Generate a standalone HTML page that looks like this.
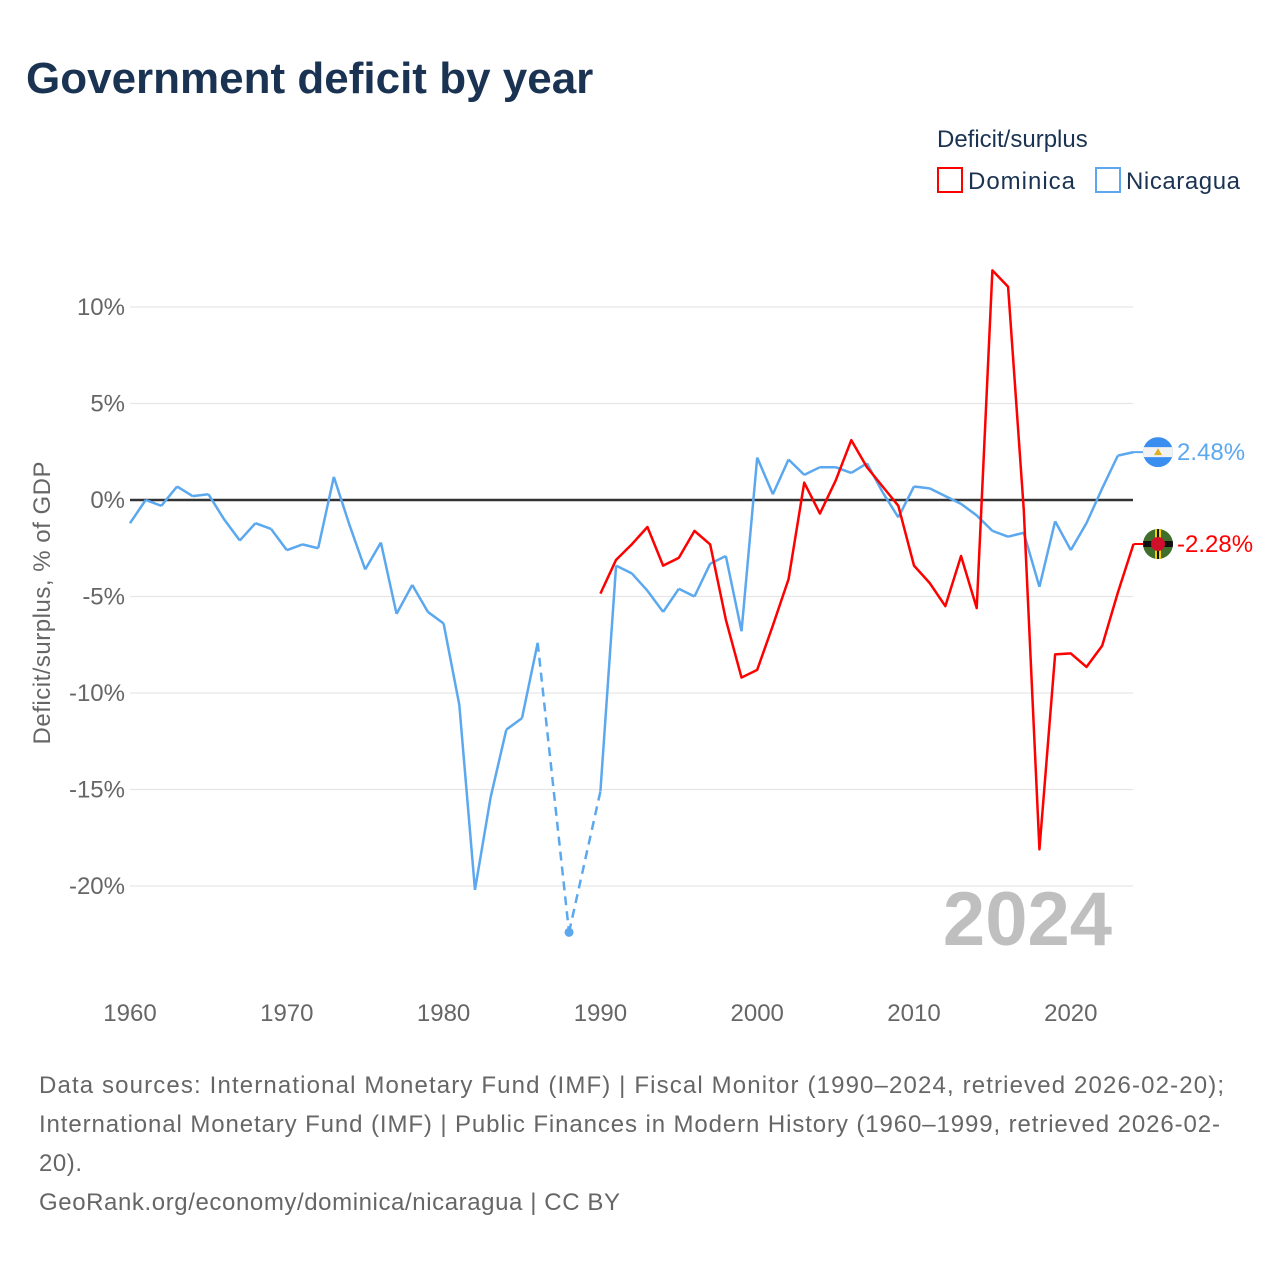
<!DOCTYPE html>
<html><head><meta charset="utf-8">
<style>
body{margin:0;background:#fff;width:1280px;height:1280px;overflow:hidden;font-family:"Liberation Sans",sans-serif;}
</style></head>
<body>
<svg id="chart" width="1280" height="1280" xmlns="http://www.w3.org/2000/svg" font-family="Liberation Sans, sans-serif">
<text x="26" y="93" font-size="44" font-weight="bold" fill="#1b3352">Government deficit by year</text>
<text x="937" y="147" font-size="24" fill="#1b3352">Deficit/surplus</text>
<g><rect x="938" y="168" width="24" height="24" fill="none" stroke="#ff0000" stroke-width="2"/><text x="968" y="189" font-size="24" fill="#1b3352" textLength="107">Dominica</text></g>
<g><rect x="1096" y="168" width="24" height="24" fill="none" stroke="#5ba8ef" stroke-width="2"/><text x="1126" y="189" font-size="24" fill="#1b3352" textLength="114">Nicaragua</text></g>
<text transform="translate(50,603) rotate(-90)" text-anchor="middle" font-size="24" fill="#666" textLength="283">Deficit/surplus, % of GDP</text>
<g id="grid"></g><g id="yticks"></g><g id="xticks"></g>
<text x="1112" y="945" text-anchor="end" font-size="76" font-weight="bold" fill="#bfbfbf">2024</text>
<g id="series"></g>
<g font-size="24" fill="#666">
<text x="39" y="1093" textLength="1185">Data sources: International Monetary Fund (IMF) | Fiscal Monitor (1990–2024, retrieved 2026-02-20);</text>
<text x="39" y="1132" textLength="1181">International Monetary Fund (IMF) | Public Finances in Modern History (1960–1999, retrieved 2026-02-</text>
<text x="39" y="1171" textLength="43">20).</text>
<text x="39" y="1210" textLength="581">GeoRank.org/economy/dominica/nicaragua | CC BY</text>
</g>
</svg>
<script>
const years = [];
for (let y = 1960; y <= 2024; y++) years.push(y);
const nicaragua = [-1.2,0.0,-0.3,0.7,0.2,0.3,-1.0,-2.1,-1.2,-1.5,-2.6,-2.3,-2.5,1.2,-1.3,-3.6,-2.2,-5.9,-4.4,-5.8,-6.4,-10.6,-20.2,-15.4,-11.9,-11.3,-7.4,null,-22.4,null,
-15.1,-3.4,-3.8,-4.7,-5.8,-4.6,-5.0,-3.3,-2.9,-6.8,2.2,0.3,2.1,1.3,1.7,1.7,1.4,1.9,0.4,-0.9,0.7,0.6,0.2,-0.2,-0.8,-1.6,-1.9,-1.7,-4.5,-1.1,-2.6,-1.2,0.6,2.3,2.48];
const dominicaYears = [1990,1991,1992,1993,1994,1995,1996,1997,1998,1999,2000,2001,2002,2003,2004,2005,2006,2007,2008,2009,2010,2011,2012,2013,2014,2015,2016,2017,2018,2019,2020,2021,2022,2023,2024];
const dominica = [-4.85,-3.1,-2.3,-1.4,-3.4,-3.0,-1.6,-2.3,-6.2,-9.2,-8.8,-6.5,-4.1,0.9,-0.7,1.0,3.1,1.7,0.7,-0.3,-3.4,-4.3,-5.5,-2.9,-5.6,11.9,11.05,-0.5,-18.1,-8.0,-7.95,-8.65,-7.55,-4.8,-2.28];
const yTicks = [10,5,0,-5,-10,-15,-20];
const yTickLabels = ["10%","5%","0%","-5%","-10%","-15%","-20%"];
const xTicks = [1960,1970,1980,1990,2000,2010,2020];

const NS = "http://www.w3.org/2000/svg";
const X = yr => 130 + (yr - 1960) * 15.68;
const Y = v => 500 - v * 19.3;
function mk(tag, attrs, parent){const e=document.createElementNS(NS,tag);for(const k in attrs)e.setAttribute(k,attrs[k]);document.getElementById(parent).appendChild(e);return e;}

yTicks.forEach((t,i)=>{
  const g = mk("line",{x1:130,x2:1133,y1:Y(t),y2:Y(t),stroke:t===0?"#333":"#e6e6e6","stroke-width":t===0?2.5:1.2},"grid");
  
  
  const tx = mk("text",{x:125,y:Y(t)+8,"text-anchor":"end","font-size":24,fill:"#666"},"yticks");
  tx.textContent = yTickLabels[i];
  
  
});
xTicks.forEach(t=>{
  const tx = mk("text",{x:X(t),y:1021,"text-anchor":"middle","font-size":24,fill:"#666"},"xticks");
  tx.textContent = t;
  
  
});

let solid = "", dashed = "", prev = null;
nicaragua.forEach((v,i)=>{
  if (v === null) return;
  const px = X(years[i]), py = Y(v);
  if (prev) {
    if (prev.i === i-1) solid += `M${prev.x},${prev.y}L${px},${py}`;
    else dashed += `M${prev.x},${prev.y}L${px},${py}`;
  }
  prev = {i, x:px, y:py};
});
const nd = mk("path",{d:dashed,fill:"none",stroke:"#5ba8ef","stroke-width":2.5,"stroke-dasharray":"9,6"},"series");


const ns = mk("path",{d:solid,fill:"none",stroke:"#5ba8ef","stroke-width":2.5,"stroke-linejoin":"round"},"series");


nicaragua.forEach((v,i)=>{
  if (v===null) return;
  const isolated = (i>0 && nicaragua[i-1]===null) && (i<nicaragua.length-1 && nicaragua[i+1]===null);
  if (isolated) {
    const c = mk("circle",{cx:X(years[i]),cy:Y(v),r:4.5,fill:"#5ba8ef"},"series");
    
    
  }
});
const dp = mk("path",{d:dominica.map((v,i)=>(i?"L":"M")+X(dominicaYears[i])+","+Y(v)).join(""),fill:"none",stroke:"#ff0000","stroke-width":2.5,"stroke-linejoin":"round"},"series");



const nLast = nicaragua[nicaragua.length-1], dLast = dominica[dominica.length-1];
const ny = Y(nLast), dy = Y(dLast), fx = 1158;
const nl = mk("line",{x1:X(2024),x2:fx,y1:ny,y2:ny,stroke:"#5ba8ef","stroke-width":2},"series");


const dl = mk("line",{x1:X(2024),x2:fx,y1:dy,y2:dy,stroke:"#ff0000","stroke-width":2},"series");


const nf = mk("g",{},"series");


nf.innerHTML = `<clipPath id="cn"><circle cx="${fx}" cy="${ny}" r="15"/></clipPath><g clip-path="url(#cn)"><rect x="${fx-15}" y="${ny-15}" width="30" height="30" fill="#3a8ef0"/><rect x="${fx-15}" y="${ny-5}" width="30" height="10" fill="#f2f2f2"/><polygon points="${fx-4},${ny+3} ${fx+4},${ny+3} ${fx},${ny-4}" fill="#e0b020"/></g>`;
const df = mk("g",{},"series");


df.innerHTML = `<clipPath id="cd"><circle cx="${fx}" cy="${dy}" r="15"/></clipPath><g clip-path="url(#cd)"><rect x="${fx-15}" y="${dy-15}" width="30" height="30" fill="#3f6f2a"/><rect x="${fx-3}" y="${dy-15}" width="6" height="30" fill="#f5d000"/><rect x="${fx-15}" y="${dy-3}" width="30" height="6" fill="#111"/><rect x="${fx-1}" y="${dy-15}" width="2" height="30" fill="#111"/><circle cx="${fx}" cy="${dy}" r="7" fill="#d0102a"/></g>`;
const nt = mk("text",{x:1177,y:ny+8,"font-size":24,fill:"#5ba8ef"},"series");
nt.textContent = nLast.toFixed(2)+"%";


const dt = mk("text",{x:1177,y:dy+8,"font-size":24,fill:"#ff0000"},"series");
dt.textContent = dLast.toFixed(2)+"%";


</script>
</body></html>
